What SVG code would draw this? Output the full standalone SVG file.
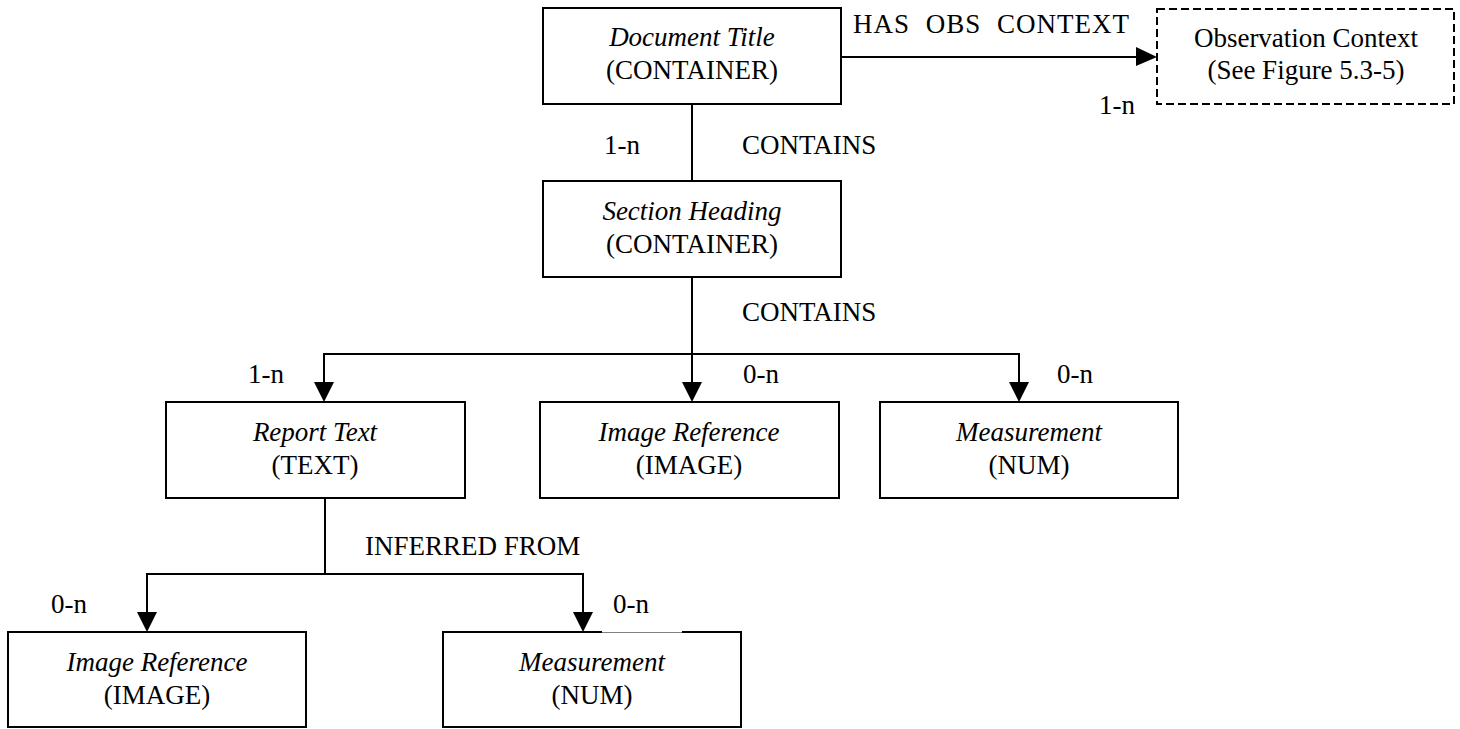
<svg xmlns="http://www.w3.org/2000/svg" width="1460" height="729" viewBox="0 0 1460 729">
  <style>
    .box { fill: #ffffff; stroke: #000000; stroke-width: 2; }
    .dash { fill: #ffffff; stroke: #000000; stroke-width: 2; stroke-dasharray: 8 4; }
    .line { fill: none; stroke: #000000; stroke-width: 2; }
    .head { fill: #000000; stroke: none; }
    text { font-family: "Liberation Serif", "Times New Roman", serif; font-size: 27px; fill: #000000; }
    .name { font-style: italic; text-anchor: middle; }
    .type { text-anchor: middle; }
    .wide { letter-spacing: 1px; word-spacing: 8px; }
  </style>

  <!-- connectors -->
  <g id="connectors">
    <!-- Document Title -> Observation Context -->
    <line class="line" x1="841" y1="57" x2="1138" y2="57"/>
    <polygon class="head" points="1136,47 1157,57 1136,66"/>
    <text class="wide" x="853" y="33">HAS OBS CONTEXT</text>
    <text x="1099" y="114">1-n</text>

    <!-- Document Title -> Section Heading -->
    <line class="line" x1="692" y1="104" x2="692" y2="181"/>
    <text x="604" y="154">1-n</text>
    <text x="742" y="154">CONTAINS</text>

    <!-- Section Heading -> row of children -->
    <line class="line" x1="692" y1="277" x2="692" y2="384"/>
    <polyline class="line" points="324,384 324,354 1019,354 1019,384"/>
    <polygon class="head" points="314,382 334,382 324,402"/>
    <polygon class="head" points="682,382 702,382 692,402"/>
    <polygon class="head" points="1009,382 1029,382 1019,402"/>
    <text x="742" y="321">CONTAINS</text>
    <text x="248" y="383">1-n</text>
    <text x="743" y="383">0-n</text>
    <text x="1057" y="383">0-n</text>

    <!-- Report Text -> inferred sources -->
    <line class="line" x1="325" y1="498" x2="325" y2="574"/>
    <polyline class="line" points="147,614 147,574 583,574 583,614"/>
    <polygon class="head" points="137,612 157,612 147,632"/>
    <polygon class="head" points="573,612 593,612 583,632"/>
    <text x="365" y="555">INFERRED FROM</text>
    <text x="51" y="613">0-n</text>
    <text x="613" y="613">0-n</text>
  </g>

  <g id="document-title">
    <rect class="box" x="543" y="8" width="298" height="96"/>
    <text class="name" x="692" y="46">Document Title</text>
    <text class="type" x="692" y="79">(CONTAINER)</text>
  </g>

  <g id="observation-context">
    <rect class="dash" x="1157" y="9" width="297" height="95"/>
    <text class="type" x="1306" y="47">Observation Context</text>
    <text class="type" x="1306" y="79">(See Figure 5.3-5)</text>
  </g>

  <g id="section-heading">
    <rect class="box" x="543" y="181" width="298" height="96"/>
    <text class="name" x="692" y="220">Section Heading</text>
    <text class="type" x="692" y="253">(CONTAINER)</text>
  </g>

  <g id="report-text">
    <rect class="box" x="166" y="402" width="299" height="96"/>
    <text class="name" x="315" y="441">Report Text</text>
    <text class="type" x="315" y="474">(TEXT)</text>
  </g>

  <g id="image-reference-1">
    <rect class="box" x="540" y="402" width="299" height="96"/>
    <text class="name" x="689" y="441">Image Reference</text>
    <text class="type" x="689" y="474">(IMAGE)</text>
  </g>

  <g id="measurement-1">
    <rect class="box" x="880" y="402" width="298" height="96"/>
    <text class="name" x="1029" y="441">Measurement</text>
    <text class="type" x="1029" y="474">(NUM)</text>
  </g>

  <g id="image-reference-2">
    <rect class="box" x="8" y="632" width="298" height="95"/>
    <text class="name" x="157" y="671">Image Reference</text>
    <text class="type" x="157" y="704">(IMAGE)</text>
  </g>

  <g id="measurement-2">
    <rect class="box" x="443" y="632" width="298" height="95"/>
    <!-- thinner stretch of the top edge under the 0-n label -->
    <rect x="602" y="630" width="80" height="4" fill="#ffffff"/>
    <line x1="602" y1="632.5" x2="682" y2="632.5" stroke="#808080" stroke-width="1"/>
    <text class="name" x="592" y="671">Measurement</text>
    <text class="type" x="592" y="704">(NUM)</text>
  </g>
</svg>
